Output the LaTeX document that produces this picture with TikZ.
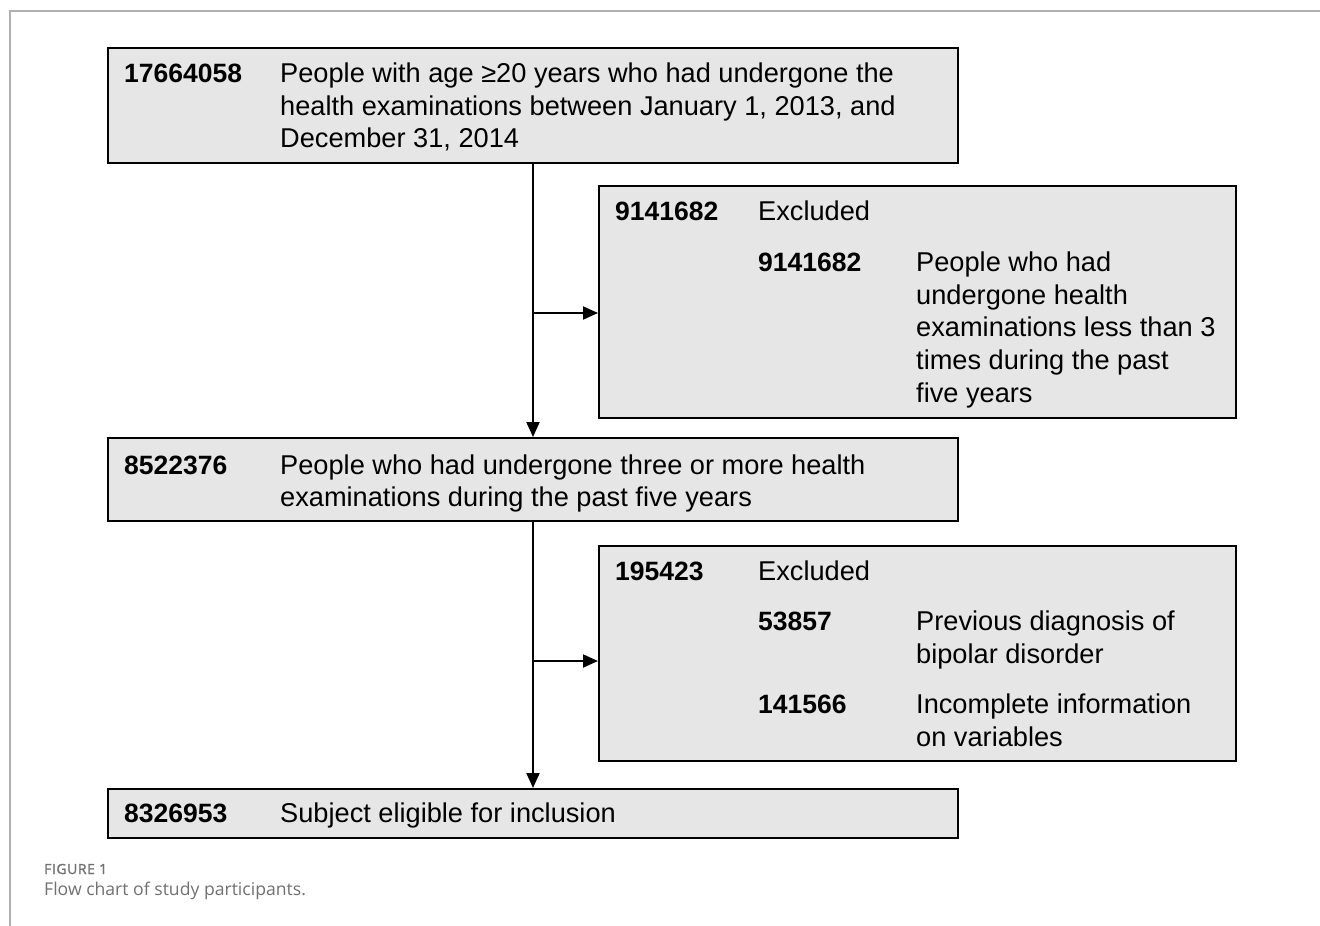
\documentclass[tikz,border=0pt]{standalone}
\usepackage{fontspec}
\setmainfont{Liberation Sans}
\newfontfamily\capfont{Open Sans}
\usetikzlibrary{arrows.meta}
\definecolor{boxgray}{HTML}{E6E6E6}
\definecolor{capgray}{HTML}{707070}
\definecolor{framegray}{HTML}{B0B0B0}
\begin{document}
\begin{tikzpicture}[x=1pt,y=-1pt,
  box/.style={draw=black,line width=2.2pt,fill=boxgray,anchor=north west,inner sep=0pt},
  txt/.style={anchor=base west,inner sep=0pt,font=\fontsize{27.2}{30}\selectfont},
  num/.style={anchor=base west,inner sep=0pt,font=\fontsize{26.5}{30}\selectfont\bfseries},
  arr/.style={line width=2pt,-{Triangle[length=15pt,width=13pt]}}
]
\useasboundingbox (0,0) rectangle (1320,926);
\draw[framegray,line width=1.5pt] (10,926) -- (10,11) -- (1320,11);

% boxes
\node[box,minimum width=850pt,minimum height=115pt] (b1) at (107,47) {};
\node[box,minimum width=637pt,minimum height=232pt] (e1) at (598,185) {};
\node[box,minimum width=850pt,minimum height=83pt] (b2) at (107,437) {};
\node[box,minimum width=637pt,minimum height=215pt] (e2) at (598,545) {};
\node[box,minimum width=850pt,minimum height=49pt] (b3) at (107,788) {};

% box 1 text
\node[num] (n1) at (124,82) {17664058};
\node[txt] (t1a) at (280,82) {People with age ≥20 years who had undergone the};
\node[txt] (t1b) at (280,115) {health examinations between January 1, 2013, and};
\node[txt] (t1c) at (280,147) {December 31, 2014};

% excluded 1 text
\node[num] (n2) at (615,220) {9141682};
\node[txt] (x1) at (758,220) {Excluded};
\node[num] (n2a) at (758,271) {9141682};
\node[txt] (t2a) at (916,271) {People who had};
\node[txt] (t2b) at (916,304) {undergone health};
\node[txt] (t2c) at (916,336) {examinations less than 3};
\node[txt] (t2d) at (916,369) {times during the past};
\node[txt] (t2e) at (916,402) {five years};

% box 2 text
\node[num] (n3) at (124,474) {8522376};
\node[txt] (t3a) at (280,474) {People who had undergone three or more health};
\node[txt] (t3b) at (280,506) {examinations during the past five years};

% excluded 2 text
\node[num] (n4) at (615,580) {195423};
\node[txt] (x2) at (758,580) {Excluded};
\node[num] (n4a) at (758,630) {53857};
\node[txt] (t4a) at (916,630) {Previous diagnosis of};
\node[txt] (t4b) at (916,663) {bipolar disorder};
\node[num] (n4b) at (758,713) {141566};
\node[txt] (t4c) at (916,713) {Incomplete information};
\node[txt] (t4d) at (916,746) {on variables};

% box 3 text
\node[num] (n5) at (124,822) {8326953};
\node[txt] (t5a) at (280,822) {Subject eligible for inclusion};

% connectors
\coordinate (s1) at (533,162);
\coordinate (j1) at (533,313);
\coordinate (s2) at (533,520);
\coordinate (j2) at (533,661);
\draw[arr] (s1) -- (s1 |- b2.north);
\draw[arr] (j1) -- (j1 -| e1.west);
\draw[arr] (s2) -- (s2 |- b3.north);
\draw[arr] (j2) -- (j2 -| e2.west);

% caption
\node[anchor=base west,inner sep=0pt,text=capgray,font=\capfont\fontsize{14}{16}\selectfont\addfontfeatures{FakeBold=1.5,LetterSpace=4}] (fig) at (44,874) {FIGURE 1};
\node[anchor=base west,inner sep=0pt,text=capgray,font=\capfont\fontsize{17.6}{20}\selectfont] (cap) at (44,895) {Flow chart of study participants.};
\end{tikzpicture}
\end{document}
